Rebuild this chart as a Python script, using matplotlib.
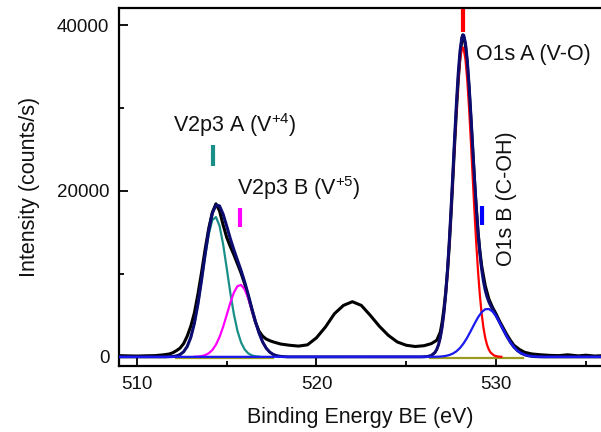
import matplotlib
matplotlib.use("Agg")
import matplotlib.pyplot as plt
from matplotlib.ticker import MultipleLocator

plt.rcParams['font.family'] = ['Liberation Sans', 'DejaVu Sans']
plt.rcParams['mathtext.fontset'] = 'custom'
plt.rcParams['mathtext.rm'] = 'Liberation Sans'
plt.rcParams['mathtext.it'] = 'Liberation Sans:italic'

# ---- measured spectrum (black) ----
data_x = [509.0, 509.5, 510.0, 510.5, 511.0, 511.5, 511.8, 512.0, 512.2, 512.4, 512.6, 512.8,
          513.0, 513.2, 513.4, 513.6, 513.8, 514.0, 514.2, 514.4, 514.6, 514.8, 515.0, 515.2,
          515.4, 515.6, 515.8, 516.0, 516.2, 516.4, 516.6, 516.8, 517.0, 517.2, 517.4, 517.6,
          518.0, 518.5, 519.0, 519.5, 520.0, 520.5, 521.0, 521.5, 522.0, 522.5, 523.0, 523.5,
          524.0, 524.5, 525.0, 525.5, 526.0, 526.4, 526.7, 526.9, 527.0, 527.1, 527.2, 527.3,
          527.4, 527.5, 527.6, 527.7, 527.8, 527.9, 528.0, 528.1, 528.15, 528.2, 528.3, 528.4,
          528.5, 528.6, 528.7, 528.8, 528.9, 529.0, 529.1, 529.2, 529.4, 529.6, 529.8, 530.0,
          530.2, 530.4, 530.6, 530.8, 531.0, 531.3, 531.6, 532.0, 532.5, 533.0, 533.5, 534.0,
          534.3, 534.6, 535.0, 535.5, 536.0]
data_y = [150, 120, 100, 130, 150, 250, 350, 500, 750, 1050, 1600, 2500,
          3700, 5300, 7600, 10200, 13000, 15500, 17400, 18450, 17600, 15900, 14400, 13300,
          12300, 11200, 10100, 8800, 7300, 5700, 4200, 3100, 2500, 2150, 1950, 1800,
          1550, 1400, 1300, 1450, 2300, 3600, 5200, 6200, 6650, 6200, 5000, 3700,
          2600, 1800, 1400, 1250, 1350, 1600, 2000, 3000, 4200, 5800, 7800, 10300,
          13500, 17300, 21500, 25800, 29800, 33400, 36300, 38300, 38800, 38600, 37500, 35300,
          32300, 28800, 25000, 21300, 17900, 15000, 12800, 11000, 8600, 7000, 6000, 5200,
          4300, 3500, 2700, 2000, 1400, 900, 550, 350, 250, 180, 150, 250,
          180, 120, 200, 100, 150]

# ---- V2p3 A (V+4) component (teal) ----
v4_x = [512.0, 512.2, 512.4, 512.6, 512.8, 513.0, 513.2, 513.4, 513.6, 513.8, 514.0, 514.2,
        514.4, 514.6, 514.8, 515.0, 515.2, 515.4, 515.6, 515.8, 516.0, 516.2, 516.4, 516.6, 516.8]
v4_y = [43, 113, 277, 617, 1256, 2350, 4040, 6370, 9200, 12190, 14800, 16500,
        16850, 15800, 13580, 10700, 7740, 5140, 3120, 1740, 890, 420, 180, 70, 25]

# ---- V2p3 B (V+5) component (magenta) ----
v5_x = [513.2, 513.4, 513.6, 513.8, 514.0, 514.2, 514.4, 514.6, 514.8, 515.0, 515.2, 515.4,
        515.6, 515.8, 516.0, 516.2, 516.4, 516.6, 516.8, 517.0, 517.2, 517.4, 517.6, 517.8, 518.0]
v5_y = [14, 38, 93, 209, 432, 830, 1465, 2395, 3620, 5055, 6515, 7760,
        8530, 8670, 8140, 7055, 5650, 4175, 2855, 1800, 1050, 565, 280, 130, 55]

# ---- O1s A (V-O) component (red) ----
oa_x = [526.0, 526.2, 526.4, 526.6, 526.7, 526.8, 526.9, 527.0, 527.1, 527.2, 527.3, 527.4,
        527.5, 527.6, 527.7, 527.8, 527.9, 528.0, 528.1, 528.15, 528.2, 528.3, 528.4, 528.5,
        528.6, 528.7, 528.8, 528.9, 529.0, 529.1, 529.2, 529.3, 529.4, 529.5, 529.6, 529.7,
        529.9, 530.1, 530.3]
oa_y = [10, 43, 160, 520, 885, 1455, 2310, 3545, 5245, 7485, 10310, 13710,
        17590, 21775, 26020, 30000, 33380, 35840, 37135, 37300, 37135, 35840, 33380, 30000,
        26020, 21775, 17590, 13710, 10310, 7485, 5245, 3545, 2310, 1455, 885, 520,
        160, 43, 10]

# ---- O1s B (C-OH) component (blue) ----
ob_x = [509.0, 526.6, 526.8, 527.0, 527.2, 527.4, 527.6, 527.8, 528.0, 528.2, 528.4, 528.6,
        528.8, 529.0, 529.2, 529.4, 529.6, 529.8, 530.0, 530.2, 530.4, 530.6, 530.8, 531.0,
        531.2, 531.4, 531.6, 531.8, 532.0, 532.2, 532.6, 536.0]
ob_y = [0, 12, 27, 58, 117, 222, 400, 677, 1085, 1640, 2335, 3138,
        3980, 4766, 5385, 5740, 5773, 5480, 4907, 4147, 3306, 2488, 1766, 1183,
        748, 446, 251, 133, 67, 32, 0, 0]

# ---- envelope fit (navy) ----
fit_x = [509.0, 511.6, 512.0, 512.2, 512.4, 512.6, 512.8, 513.0, 513.2, 513.4, 513.6, 513.8,
         514.0, 514.2, 514.4, 514.6, 514.8, 515.0, 515.2, 515.4, 515.6, 515.8, 516.0, 516.2,
         516.4, 516.6, 516.8, 517.0, 517.2, 517.4, 517.6, 517.8, 518.0, 518.4,
         525.8, 526.0, 526.2, 526.4, 526.6, 526.7, 526.8, 526.9, 527.0, 527.1, 527.2, 527.3,
         527.4, 527.5, 527.6, 527.7, 527.8, 527.9, 528.0, 528.1, 528.15, 528.2, 528.3, 528.4,
         528.5, 528.6, 528.7, 528.8, 528.9, 529.0, 529.1, 529.2, 529.3, 529.4, 529.5, 529.6,
         529.7, 529.8, 530.0, 530.2, 530.4, 530.6, 530.8, 531.0, 531.2, 531.4, 531.6, 531.8,
         532.0, 532.2, 532.6, 536.0]
fit_y = [0, 0, 43, 113, 277, 617, 1256, 2350, 4054, 6408, 9293, 12399,
         15232, 17330, 18315, 18195, 17200, 15755, 14255, 12900, 11650, 10410, 9030, 7475,
         5830, 4245, 2880, 1800, 1050, 565, 280, 130, 55, 0,
         0, 10, 48, 170, 532, 903, 1482, 2350, 3603, 5328, 7602, 10472,
         13932, 17890, 22175, 26544, 30677, 34244, 36925, 38478, 38790, 38775, 37810, 35715,
         32726, 29158, 25335, 21570, 18098, 15076, 12588, 10630, 9145, 8050, 7253, 6658,
         6185, 5780, 5007, 4167, 3306, 2488, 1766, 1183, 748, 446, 251, 133,
         67, 32, 0, 0]

# ---- background lines (olive) ----
bg1_x = [512.2, 517.6]
bg1_y = [-180, -180]
bg2_x = [526.3, 531.5]
bg2_y = [-180, -180]

# ---- peak position marks ----
mark_x = [514.26, 515.74, 528.15, 529.24]
mark_lo = [22960, 15650, 39130, 15860]
mark_hi = [25560, 17960, 41900, 18170]
mark_colors = ['#1a8f88', '#ff00ff', '#ff0000', '#0000ff']

# ---- labels ----
label_text = ['V2p3 A (V$^{\\mathrm{+4}}$)', 'V2p3 B (V$^{\\mathrm{+5}}$)', 'O1s A (V-O)', 'O1s B (C-OH)']
label_x = [515.46, 519.03, 532.08, 530.59]
label_y = [27990, 20320, 36490, 19010]
label_rot = [0, 0, 0, 90]

fig = plt.figure(figsize=(6.01, 4.32), dpi=100)
ax = fig.add_axes([119 / 601, (432 - 366) / 432, (601 - 119) / 601, (366 - 8) / 432])

ax.plot(data_x, data_y, color='black', lw=2.2, zorder=2)
ax.plot(bg1_x, bg1_y, color='#9a9a20', lw=1.6, zorder=3)
ax.plot(bg2_x, bg2_y, color='#9a9a20', lw=1.6, zorder=3)
ax.plot(v4_x, v4_y, color='#1a8f88', lw=1.6, zorder=3)
ax.plot(v5_x, v5_y, color='#ff00ff', lw=1.6, zorder=3)
ax.plot(oa_x, oa_y, color='#ff0000', lw=1.6, zorder=3)
ax.plot(fit_x, fit_y, color='#0b0b70', lw=2.2, zorder=4)
ax.plot(ob_x, ob_y, color='#1a1aee', lw=1.6, zorder=5)

for mx, lo, hi, c in zip(mark_x, mark_lo, mark_hi, mark_colors):
    ax.plot([mx, mx], [lo, hi], color=c, lw=3.0, solid_capstyle='butt', zorder=6, clip_on=False)

for t, x, y, r in zip(label_text, label_x, label_y, label_rot):
    ax.text(x, y, t, fontsize=15.5, rotation=r, ha='center', va='center', color='#111111')

ax.set_xlim(509.0, 535.85)
ax.set_ylim(-1100, 42050)
ax.xaxis.set_major_locator(MultipleLocator(10))
ax.xaxis.set_minor_locator(MultipleLocator(5))
ax.yaxis.set_major_locator(MultipleLocator(20000))
ax.yaxis.set_minor_locator(MultipleLocator(10000))
ax.tick_params(which='both', direction='in', width=1.4, top=False, right=False,
               labelsize=13.5, colors='#111111')
ax.tick_params(which='major', length=6.5, pad=7)
ax.tick_params(which='minor', length=3.5)
for s in ['left', 'bottom', 'top']:
    ax.spines[s].set_linewidth(1.6)
ax.spines['right'].set_visible(False)

ax.set_xlabel('Binding Energy BE (eV)', fontsize=15.5, labelpad=10, color='#111111')
ax.set_ylabel('Intensity (counts/s)', fontsize=15.5, labelpad=12, color='#111111')

fig.savefig('out.png', dpi=100)
